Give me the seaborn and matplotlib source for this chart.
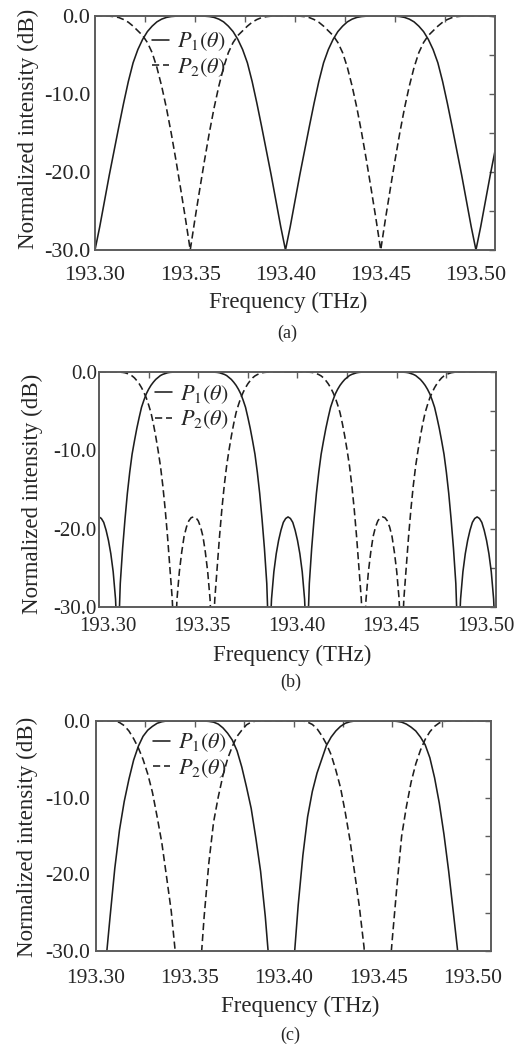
import numpy as np
import matplotlib
matplotlib.use("Agg")
import matplotlib.pyplot as plt
import seaborn as sns
from matplotlib.ticker import FixedLocator

# ---------------- data ----------------
freq = np.round(193.30 + 0.0025 * np.arange(85), 5)      # THz grid for panels (a) and (c)
freq_b = np.round(193.30 + 0.00125 * np.arange(169), 5)  # finer THz grid for panel (b)

p1_a = [-30.0, -27.0, -23.7, -20.4, -17.3, -14.2, -11.2, -8.4, -6.0, -4.3, -3.0, -2.0, -1.3, -0.75, -0.4, -0.18, -0.07, -0.02, 0.0, 0.0, 0.0,
        0.0, 0.0, -0.02, -0.07, -0.18, -0.4, -0.75, -1.3, -2.0, -3.0, -4.3, -6.0, -8.4, -11.2, -14.2, -17.3, -20.4, -23.7, -27.0,
        -30.0,
        -27.0, -23.7, -20.4, -17.3, -14.2, -11.2, -8.4, -6.0, -4.3, -3.0, -2.0, -1.3, -0.75, -0.4, -0.18, -0.07, -0.02, 0.0, 0.0, 0.0,
        0.0, 0.0, -0.02, -0.07, -0.18, -0.4, -0.75, -1.3, -2.0, -3.0, -4.3, -6.0, -8.4, -11.2, -14.2, -17.3, -20.4, -23.7, -27.0,
        -30.0,
        -27.0, -23.7, -20.4, -17.3]
p2_a = [0.0, 0.0, 0.0, -0.02, -0.08, -0.2, -0.45, -0.8, -1.3, -1.9, -2.5, -3.4, -4.7, -6.6, -9.0, -11.8, -15.0, -18.5, -22.2, -26.0, -30.0,
        -26.0, -22.2, -18.5, -15.0, -11.8, -9.0, -6.6, -4.7, -3.4, -2.5, -1.9, -1.3, -0.8, -0.45, -0.2, -0.08, -0.02, 0.0, 0.0, 0.0,
        0.0, 0.0, -0.02, -0.08, -0.2, -0.45, -0.8, -1.3, -1.9, -2.5, -3.4, -4.7, -6.6, -9.0, -11.8, -15.0, -18.5, -22.2, -26.0, -30.0,
        -26.0, -22.2, -18.5, -15.0, -11.8, -9.0, -6.6, -4.7, -3.4, -2.5, -1.9, -1.3, -0.8, -0.45, -0.2, -0.08, -0.02, 0.0, 0.0, 0.0,
        0.0, 0.0, -0.02, -0.08]

p1_b = [
    # 193.300 - 193.350
    -18.5, -18.7, -19.2, -20.2, -21.5, -23.2, -25.5, -29.0, -36.0, -27.0, -22.5, -18.8, -15.5, -12.8, -10.5, -8.8, -7.2, -5.8, -4.5, -3.6,
    -2.8, -2.2, -1.7, -1.3, -0.95, -0.7, -0.45, -0.3, -0.2, -0.1, -0.05, -0.02, 0.0, 0.0, 0.0, 0.0, 0.0, 0.0, 0.0, 0.0, 0.0,
    # 193.35125 - 193.400
    0.0, 0.0, 0.0, 0.0, 0.0, 0.0, 0.0, 0.0, -0.02, -0.05, -0.1, -0.2, -0.3, -0.45, -0.7, -0.95, -1.3, -1.7, -2.2, -2.8,
    -3.6, -4.5, -5.8, -7.2, -8.8, -10.5, -12.8, -15.5, -18.8, -22.5, -27.0, -36.0, -29.0, -25.5, -23.2, -21.5, -20.2, -19.2, -18.7, -18.5,
    # 193.40125 - 193.450
    -18.7, -19.2, -20.2, -21.5, -23.2, -25.5, -29.0, -36.0, -27.0, -22.5, -18.8, -15.5, -12.8, -10.5, -8.8, -7.2, -5.8, -4.5, -3.6, -2.8,
    -2.2, -1.7, -1.3, -0.95, -0.7, -0.45, -0.3, -0.2, -0.1, -0.05, -0.02, 0.0, 0.0, 0.0, 0.0, 0.0, 0.0, 0.0, 0.0, 0.0,
    # 193.45125 - 193.500
    0.0, 0.0, 0.0, 0.0, 0.0, 0.0, 0.0, 0.0, -0.02, -0.05, -0.1, -0.2, -0.3, -0.45, -0.7, -0.95, -1.3, -1.7, -2.2, -2.8,
    -3.6, -4.5, -5.8, -7.2, -8.8, -10.5, -12.8, -15.5, -18.8, -22.5, -27.0, -36.0, -29.0, -25.5, -23.2, -21.5, -20.2, -19.2, -18.7, -18.5,
    # 193.50125 - 193.510
    -18.7, -19.2, -20.2, -21.5, -23.2, -25.5, -29.0, -36.0]
p2_b = [
    # 193.300 - 193.350
    0.0, 0.0, 0.0, 0.0, 0.0, 0.0, 0.0, 0.0, 0.0, -0.02, -0.05, -0.1, -0.2, -0.33, -0.5, -0.75, -1.1, -1.5, -2.0, -2.6,
    -3.3, -4.2, -5.2, -6.6, -8.2, -10.0, -12.0, -14.5, -17.5, -21.0, -25.0, -29.0, -36.0, -29.0, -25.5, -23.0, -21.0, -19.8, -19.0, -18.6, -18.5,
    # 193.35125 - 193.400
    -18.6, -19.0, -19.8, -21.0, -23.0, -25.5, -29.0, -36.0, -29.0, -25.0, -21.0, -17.5, -14.5, -12.0, -10.0, -8.2, -6.6, -5.2, -4.2, -3.3,
    -2.6, -2.0, -1.5, -1.1, -0.75, -0.5, -0.33, -0.2, -0.1, -0.05, -0.02, 0.0, 0.0, 0.0, 0.0, 0.0, 0.0, 0.0, 0.0, 0.0,
    # 193.40125 - 193.450
    0.0, 0.0, 0.0, 0.0, 0.0, 0.0, 0.0, 0.0, -0.02, -0.05, -0.1, -0.2, -0.33, -0.5, -0.75, -1.1, -1.5, -2.0, -2.6, -3.3,
    -4.2, -5.2, -6.6, -8.2, -10.0, -12.0, -14.5, -17.5, -21.0, -25.0, -29.0, -36.0, -29.0, -25.5, -23.0, -21.0, -19.8, -19.0, -18.6, -18.5,
    # 193.45125 - 193.500
    -18.6, -19.0, -19.8, -21.0, -23.0, -25.5, -29.0, -36.0, -29.0, -25.0, -21.0, -17.5, -14.5, -12.0, -10.0, -8.2, -6.6, -5.2, -4.2, -3.3,
    -2.6, -2.0, -1.5, -1.1, -0.75, -0.5, -0.33, -0.2, -0.1, -0.05, -0.02, 0.0, 0.0, 0.0, 0.0, 0.0, 0.0, 0.0, 0.0, 0.0,
    # 193.50125 - 193.510
    0.0, 0.0, 0.0, 0.0, 0.0, 0.0, 0.0, 0.0]

p1_c = [-40.0, -40.0, -32.0, -25.5, -19.2, -14.2, -10.5, -7.6, -5.1, -3.3, -2.0, -1.2, -0.7, -0.3, -0.1, 0.0, 0.0, 0.0, 0.0, 0.0,
        0.0, 0.0, 0.0, 0.0, -0.05, -0.15, -0.4, -0.9, -1.6, -2.5, -3.9, -6.0, -8.6, -11.4, -15.3, -19.6, -25.5, -33.0, -40.0, -40.0,
        -40.0, -40.0, -32.0, -24.0, -17.5, -12.5, -9.2, -6.8, -5.0, -3.2, -2.1, -1.3, -0.7, -0.3, -0.1, 0.0, 0.0, 0.0, 0.0, 0.0,
        0.0, 0.0, 0.0, 0.0, -0.05, -0.15, -0.4, -0.8, -1.3, -2.1, -3.1, -4.8, -7.4, -10.7, -14.8, -19.6, -25.0, -30.5, -40.0, -40.0,
        -40.0, -40.0, -40.0, -40.0, -40.0]
p2_c = [0.0, 0.0, 0.0, 0.0, 0.0, -0.2, -0.6, -1.3, -2.3, -3.5, -5.0, -6.9, -9.3, -12.5, -15.9, -20.3, -24.8, -31.0, -40.0, -40.0,
        -40.0, -40.0, -34.0, -25.5, -18.5, -13.2, -9.9, -7.1, -4.9, -3.3, -2.0, -1.2, -0.5, -0.15, 0.0, 0.0, 0.0, 0.0, 0.0, 0.0,
        0.0, 0.0, 0.0, 0.0, 0.0, -0.15, -0.45, -1.0, -1.9, -3.0, -4.4, -6.4, -8.7, -11.9, -15.5, -19.8, -24.2, -29.5, -40.0, -40.0,
        -40.0, -40.0, -36.0, -28.5, -21.5, -15.0, -11.2, -8.0, -5.6, -3.8, -2.4, -1.4, -0.7, -0.25, -0.05, 0.0, 0.0, 0.0, 0.0, 0.0,
        0.0, 0.0, 0.0, 0.0, 0.0]

x_tick_values = [193.30, 193.35, 193.40, 193.45, 193.50]
x_tick_labels = ["193.30", "193.35", "193.40", "193.45", "193.50"]
y_tick_values = [0.0, -10.0, -20.0, -30.0]
y_tick_labels = ["0.0", "-10.0", "-20.0", "-30.0"]
labels = [r"$P_1(\theta)$", r"$P_2(\theta)$"]
captions = ["(a)", "(b)", "(c)"]

# ---------------- style ----------------
sns.set_theme(style="white")
plt.rcParams["font.family"] = ["Liberation Serif", "DejaVu Serif"]
plt.rcParams["mathtext.fontset"] = "stix"

LINE = "#1e1e1e"
FRAME = "#5c5c5c"
TEXT = "#262626"

W, H = 527, 1048
fig = plt.figure(figsize=(W / 100, H / 100), dpi=100)
fig.patch.set_facecolor("white")

def rect(l, r, t, b):
    return [l / W, 1 - b / H, (r - l) / W, (b - t) / H]

panels = [
    dict(x=freq, p1=p1_a, p2=p2_a, rect=rect(95, 495, 16, 250), xshift=0.0, xpad=11.5, ypad=3.5, tfs=16,
         xlab=((288 - 95) / 400, (250 - 308) / 234), ylab=((28 - 95) / 400, (250 - 129) / 234),
         leg=(0.1425, 0.938), cap=(287, 333)),
    dict(x=freq_b, p1=p1_b, p2=p2_b, rect=rect(99, 496, 372, 607), xshift=0.0045, xpad=7.5, ypad=1.5, tfs=15,
         xlab=((292 - 99) / 397, (607 - 661) / 235), ylab=((32 - 99) / 397, (607 - 493.5) / 235),
         leg=(0.141, 0.952), cap=(291, 682)),
    dict(x=freq, p1=p1_c, p2=p2_c, rect=rect(96, 491, 721, 951), xshift=0.0, xpad=13, ypad=4, tfs=15.5,
         xlab=((300 - 96) / 395, (951 - 1012) / 230), ylab=((27.5 - 96) / 395, (951 - 837) / 230),
         leg=(0.144, 0.953), cap=(290, 1035)),
]

for k, P in enumerate(panels):
    ax = fig.add_axes(P["rect"])
    sns.lineplot(x=P["x"], y=P["p1"], ax=ax, color=LINE, linewidth=1.15,
                 estimator=None, sort=False, label=labels[0])
    sns.lineplot(x=P["x"], y=P["p2"], ax=ax, color=LINE, linewidth=1.15,
                 estimator=None, sort=False, label=labels[1])
    ax.lines[-1].set_dashes([4.5, 2.4])
    ax.set_xlim(193.30, 193.51)
    ax.set_ylim(-30, 0)

    # labelled x ticks (no marks) + equally spaced tick marks
    ax.set_xticks([v + P["xshift"] for v in x_tick_values])
    ax.set_xticklabels(x_tick_labels)
    ax.xaxis.set_minor_locator(FixedLocator(list(np.linspace(193.30, 193.51, 9)[1:-1])))
    ax.set_yticks(y_tick_values)
    ax.set_yticklabels(y_tick_labels)
    ax.yaxis.set_minor_locator(FixedLocator([-5, -15, -25]))

    ax.tick_params(axis="both", which="both", direction="in", top=True, right=True,
                   color=FRAME, width=1.0, length=4, labelcolor=TEXT)
    ax.tick_params(axis="x", which="major", length=0, pad=P["xpad"], labelsize=P["tfs"])
    ax.tick_params(axis="y", which="major", pad=P["ypad"], labelsize=P["tfs"])

    for s in ax.spines.values():
        s.set_color(FRAME)
        s.set_linewidth(1.4)
        s.set_visible(True)

    ax.set_xlabel("Frequency (THz)", fontsize=16.5, color=TEXT)
    ax.xaxis.set_label_coords(*P["xlab"])
    ax.xaxis.label.set_verticalalignment("baseline")
    ax.set_ylabel("Normalized intensity (dB)", fontsize=16.5, color=TEXT)
    ax.yaxis.set_label_coords(*P["ylab"])
    ax.yaxis.label.set_verticalalignment("center")

    leg = ax.legend(loc="upper left", bbox_to_anchor=P["leg"], frameon=False,
                    fontsize=16, handlelength=0.78, handletextpad=0.35,
                    labelspacing=0.12, borderpad=0, borderaxespad=0)
    for t in leg.get_texts():
        t.set_color(TEXT)

    fig.text(P["cap"][0] / W, 1 - P["cap"][1] / H, captions[k], ha="center", va="center",
             fontsize=13, color=TEXT)

fig.savefig("out.png", dpi=100, facecolor="white")
